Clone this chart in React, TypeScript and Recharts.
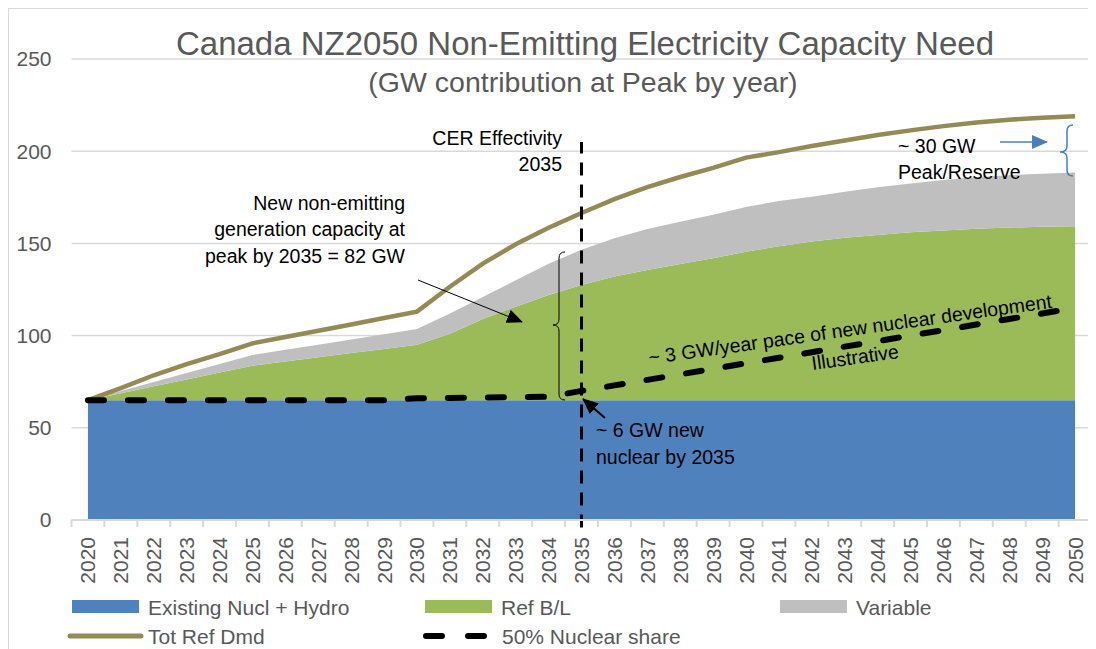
import {
  ComposedChart,
  Area,
  Line,
  XAxis,
  YAxis,
  CartesianGrid,
  ReferenceLine,
} from "recharts";

const years = [
  "2020", "2021", "2022", "2023", "2024", "2025", "2026", "2027", "2028", "2029",
  "2030", "2031", "2032", "2033", "2034", "2035", "2036", "2037", "2038", "2039",
  "2040", "2041", "2042", "2043", "2044", "2045", "2046", "2047", "2048", "2049", "2050",
];

const existingNuclHydro = [
  65, 65, 65, 65, 65, 65, 65, 65, 65, 65, 65, 65, 65, 65, 65, 65, 65, 65, 65, 65,
  65, 65, 65, 65, 65, 65, 65, 65, 65, 65, 65,
];

const refBL = [
  0, 3.7, 7.5, 11.2, 15, 18.7, 21, 23.2, 25.5, 27.7, 30, 36, 44, 50.7, 57, 62.4,
  67, 70.6, 73.8, 77, 80.5, 83.5, 86, 88, 89.5, 91, 92, 93, 93.6, 94, 94.3,
];

const variable = [
  0, 1.2, 2.3, 3.5, 4.6, 5.8, 6.3, 6.9, 7.4, 8.1, 8.6, 11, 12, 14.3, 17, 19.1,
  20.8, 22.2, 23, 23.6, 24.2, 24.5, 24.3, 25, 25.9, 26.5, 27.4, 28, 28.4, 28.8, 29.1,
];

const totRefDmd = [
  65, 71.5, 78.5, 84.5, 90, 95.8, 99.2, 102.6, 106, 109.5, 113, 126.5, 139, 149.5,
  158.5, 166.5, 174, 180.5, 186, 191, 196.5, 199.5, 202.8, 205.8, 208.8, 211.3,
  213.6, 215.6, 217.1, 218.2, 219,
];

const nuclearShare = [
  65, 65, 65, 65, 65, 65, 65, 65, 65, 65, 66, 66.2, 66.4, 66.6, 66.8, 70, 73, 76,
  79, 82, 85, 88, 91, 94, 97, 100, 103, 106, 109, 112, 115,
];

const yTicks = [0, 50, 100, 150, 200, 250];

const data = years.map((year, i) => ({
  year,
  existing: existingNuclHydro[i],
  refBL: refBL[i],
  variable: variable[i],
  totRefDmd: totRefDmd[i],
  nuclear: nuclearShare[i],
}));

const FONT = "'Liberation Sans', Arial, sans-serif";
const GREY = "#595959";
const HALF = 16.45;

const BLUE = "#4f81bd";
const GREEN = "#9bbb59";
const LIGHT = "#bfbfbf";
const OLIVE = "#948a54";

const legendRow1 = [
  { name: "Existing Nucl + Hydro", color: BLUE, x: 64 },
  { name: "Ref B/L", color: GREEN, x: 417 },
  { name: "Variable", color: LIGHT, x: 772 },
];

const XTick = (props: any) => {
  const { x, y, payload } = props;
  const last = payload.value === years[years.length - 1];
  return (
    <g>
      <line x1={x - HALF} x2={x - HALF} y1={y} y2={y + 7} stroke="#d9d9d9" strokeWidth={2} />
      {last && <line x1={x + HALF} x2={x + HALF} y1={y} y2={y + 7} stroke="#d9d9d9" strokeWidth={2} />}
      <text
        x={x}
        y={y + 17}
        transform={`rotate(-90, ${x}, ${y + 17})`}
        textAnchor="end"
        dominantBaseline="central"
        fill={GREY}
        fontSize={21}
        fontFamily={FONT}
      >
        {payload.value}
      </text>
    </g>
  );
};

const Overlay = () => (
  <svg
    width={1088}
    height={641}
    style={{ position: "absolute", left: 0, top: 0, pointerEvents: "none" }}
    fontFamily={FONT}
  >
    <defs>
      <marker id="ahs" markerWidth="16" markerHeight="14" refX="15" refY="7" orient="auto" markerUnits="userSpaceOnUse">
        <path d="M0,0 L16,7 L0,14 z" fill="#000" />
      </marker>
      <marker id="ahb" markerWidth="16" markerHeight="14" refX="15" refY="7" orient="auto" markerUnits="userSpaceOnUse">
        <path d="M0,0 L16,7 L0,14 z" fill="#4a7ebb" />
      </marker>
    </defs>
    <rect x={0.5} y={0.5} width={1100} height={700} fill="none" stroke="#d9d9d9" />

    <text x={577} y={47} textAnchor="middle" fontSize={33} fill={GREY}>
      Canada NZ2050 Non-Emitting Electricity Capacity Need
    </text>
    <text x={575} y={84} textAnchor="middle" fontSize={28.5} fill={GREY}>
      (GW contribution at Peak by year)
    </text>

    <g fontSize={19.5} fill="#000">
      <text x={554} y={137} textAnchor="end">CER Effectivity</text>
      <text x={554} y={163} textAnchor="end">2035</text>

      <text x={397} y={202} textAnchor="end">New non-emitting</text>
      <text x={397} y={228} textAnchor="end">generation capacity at</text>
      <text x={397} y={255} textAnchor="end">peak by 2035 = 82 GW</text>

      <text x={588} y={429}>~ 6 GW new</text>
      <text x={588} y={456}>nuclear by 2035</text>

      <text x={890} y={145}>~ 30 GW</text>
      <text x={890} y={171}>Peak/Reserve</text>

      <text x={843} y={328} textAnchor="middle" transform="rotate(-8, 843, 328)">
        ~ 3 GW/year pace of new nuclear development
      </text>
      <text x={848} y={356} textAnchor="middle" transform="rotate(-8, 848, 356)">
        Illustrative
      </text>
    </g>

    <line x1={410} y1={272} x2={514} y2={314} stroke="#000" strokeWidth={1} markerEnd="url(#ahs)" />
    <line x1={597} y1={410} x2={575} y2={391} stroke="#000" strokeWidth={2} markerEnd="url(#ahs)" />
    <path d="M557,244 Q551,244 551,250 L551,311 Q551,317 545,317 Q551,317 551,323 L551,386 Q551,392 557,392" fill="none" stroke="#000" strokeWidth={1} />

    <line x1={992} y1={134} x2={1039} y2={134} stroke="#4a7ebb" strokeWidth={1.5} markerEnd="url(#ahb)" />
    <path d="M1065,117 Q1059,117 1059,123 L1059,138 Q1059,144 1052,144 Q1059,144 1059,150 L1059,162 Q1059,168 1065,168" fill="none" stroke="#4a7ebb" strokeWidth={1.5} />

    <g fontSize={21} fill={GREY}>
      {legendRow1.map((item) => (
        <g key={item.name}>
          <rect x={item.x} y={592} width={67} height={13} fill={item.color} />
          <text x={item.x + 76} y={607}>{item.name}</text>
        </g>
      ))}
      <line x1={62} y1={628} x2={133} y2={628} stroke={OLIVE} strokeWidth={5} strokeLinecap="round" />
      <text x={140} y={636}>Tot Ref Dmd</text>
      <line x1={418} y1={628} x2={484} y2={628} stroke="#000" strokeWidth={6} strokeDasharray="16 26" strokeLinecap="round" />
      <text x={494} y={636}>50% Nuclear share</text>
    </g>
  </svg>
);

export default function App() {
  return (
    <div style={{ position: "relative", width: 1088, height: 641, overflow: "hidden" }}>
      <ComposedChart
        width={1088}
        height={600}
        data={data}
        margin={{ top: 51, right: 4.5, left: 0, bottom: 8 }}
      >
        <CartesianGrid vertical={false} stroke="#d9d9d9" strokeWidth={1.5} />
        <XAxis
          dataKey="year"
          interval={0}
          height={80}
          padding={{ left: HALF, right: HALF }}
          axisLine={{ stroke: "#d9d9d9", strokeWidth: 2 }}
          tickLine={false}
          tickSize={0}
          tickMargin={0}
          tick={<XTick />}
        />
        <YAxis
          width={63.5}
          domain={[0, 250]}
          ticks={yTicks}
          axisLine={false}
          tickLine={false}
          tickSize={0}
          tickMargin={20}
          tick={{ fill: GREY, fontSize: 21, fontFamily: FONT }}
        />
        <Area
          type="linear"
          dataKey="existing"
          stackId="cap"
          fill={BLUE}
          fillOpacity={1}
          stroke="none"
          isAnimationActive={false}
        />
        <Area
          type="linear"
          dataKey="refBL"
          stackId="cap"
          fill={GREEN}
          fillOpacity={1}
          stroke="none"
          isAnimationActive={false}
        />
        <Area
          type="linear"
          dataKey="variable"
          stackId="cap"
          fill={LIGHT}
          fillOpacity={1}
          stroke="none"
          isAnimationActive={false}
        />
        <Line
          type="linear"
          dataKey="totRefDmd"
          stroke={OLIVE}
          strokeWidth={4.5}
          dot={false}
          isAnimationActive={false}
        />
        <Line
          type="linear"
          dataKey="nuclear"
          stroke="#000"
          strokeWidth={6}
          strokeDasharray="16 24"
          strokeLinecap="round"
          dot={false}
          isAnimationActive={false}
        />
        <ReferenceLine
          segment={[
            { x: "2035", y: -4 },
            { x: "2035", y: 205 },
          ]}
          ifOverflow="visible"
          stroke="#000"
          strokeWidth={3}
          strokeDasharray="13 9"
        />
      </ComposedChart>
      <Overlay />
    </div>
  );
}
